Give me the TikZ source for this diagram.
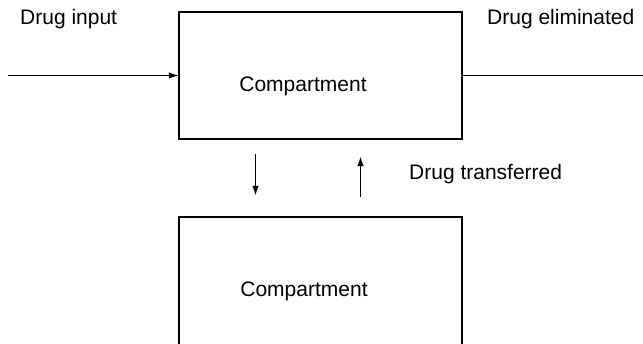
\documentclass[tikz,border=0pt]{standalone}
\usepackage{fontspec}
\setmainfont{Liberation Sans}
\usepackage{tikz}
\usetikzlibrary{arrows.meta}
\tikzstyle{compbox}=[draw,line width=1.2pt,minimum width=283pt,minimum height=127pt,inner sep=0pt]
\tikzstyle{flow} = [draw,line width=1.2pt,-{Latex[length=9.5pt,width=6.5pt]}]
\tikzstyle{plain} = [draw,line width=1.2pt]
\tikzstyle{caption} = [font=\fontsize{21}{24}\selectfont,inner sep=0pt]

\begin{document}
\begin{tikzpicture}[x=1pt,y=-1pt]
	\useasboundingbox (0,0) rectangle (643,344);
	\clip (0,0) rectangle (643,344);
	% the two compartments
	\node[compbox] (comp1) at (320.5,75.5) {};
	\node[compbox,minimum height=150pt] (comp2) at (320.5,292) {};
	\node[caption,anchor=base] (lbl1) at (303,92) {Compartment};
	\node[caption,anchor=base] (lbl2) at (304,297) {Compartment};
	% free ends of input and output
	\coordinate (in) at (8,75.5);
	\coordinate (out) at (645,75.5);
	% labels
	\node[caption,anchor=base west] (input) at (20,25) {Drug input};
	\node[caption,anchor=base west] (elim) at (487,25) {Drug eliminated};
	\node[caption,anchor=base west] (trans) at (409,180) {Drug transferred};
	% input, elimination and transfer
	\path[flow] (in) -- (comp1.west);
	\path[plain] (comp1.east) -- (out);
	\path[flow,shorten <=14pt,shorten >=21pt] ([xshift=-65pt]comp1.south) -- ([xshift=-65pt]comp2.north);
	\path[flow,shorten <=19pt,shorten >=17pt] ([xshift=40pt]comp2.north) -- ([xshift=40pt]comp1.south);
\end{tikzpicture}
\end{document}
